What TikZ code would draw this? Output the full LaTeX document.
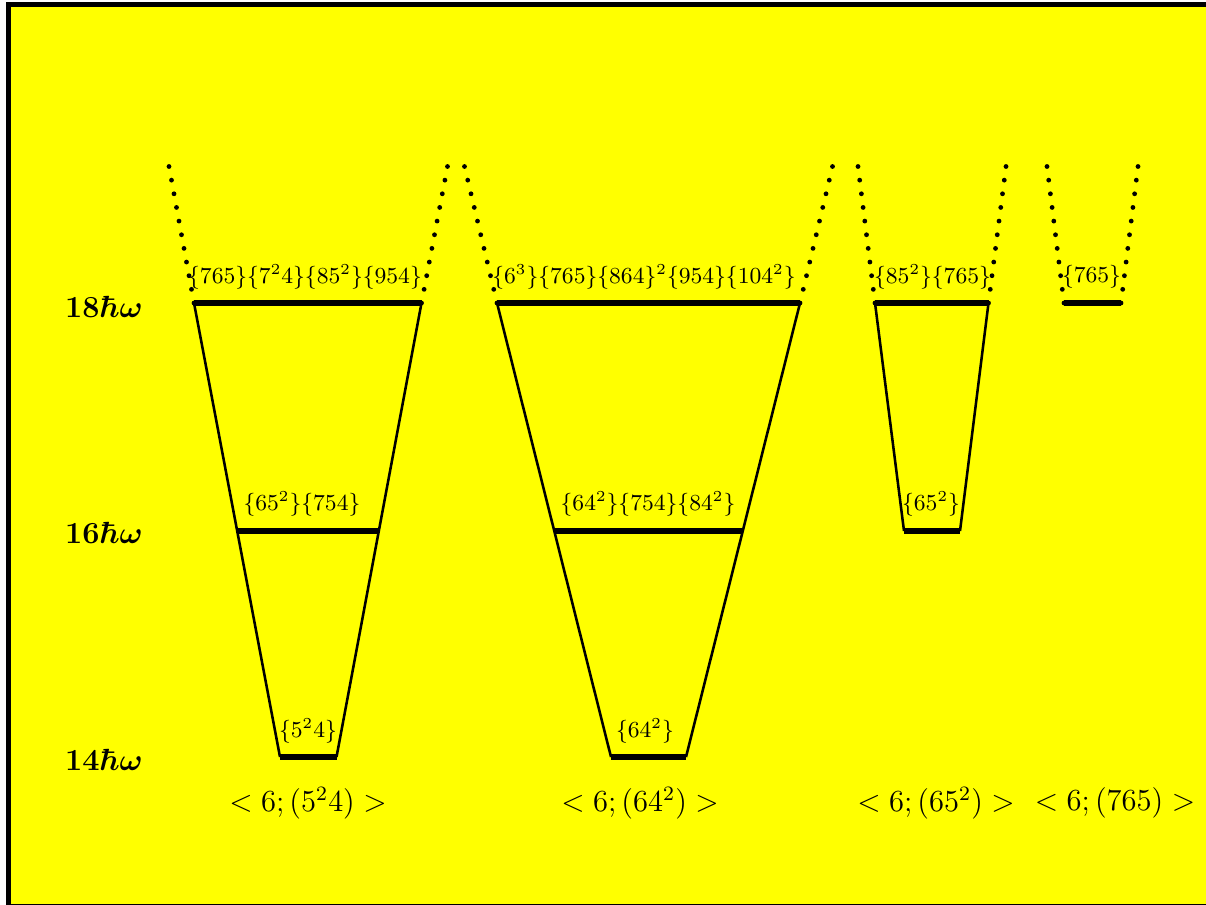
\documentclass[tikz,border=0pt]{standalone}
\usetikzlibrary{calc}
\definecolor{bgyellow}{RGB}{255,255,0}
\tikzset{
  side/.style={line width=1pt},
  levelline/.style={line width=2.1pt},
  toplab/.style={font=\fontsize{9}{11}\selectfont, inner sep=0pt},
  botlab/.style={font=\fontsize{12}{14}\selectfont, inner sep=0pt},
  energy/.style={font=\fontsize{12}{14}\selectfont\boldmath, inner sep=0pt},
}
\newcommand\mydotline[2]{\foreach \i in {0,...,10}{\fill ($(#1)!\i/10!(#2)$) circle[radius=2.4];}}
\begin{document}
\begin{tikzpicture}[x=0.392pt,y=-0.392pt]
\useasboundingbox (0,0) rectangle (1206,905);
% frame and background
\fill[white] (0,0) rectangle (1206,905);
\fill[black] (6,2.3) rectangle (1206,905);
\fill[bgyellow] (11,7.5) rectangle (1206,903.5);

% energy labels
\node[energy] (e18) at (104,307) {$18\hbar\omega$};
\node[energy] (e16) at (104,533) {$16\hbar\omega$};
\node[energy] (e14) at (104,760) {$14\hbar\omega$};

% ---------- group 1 ----------
\coordinate (a1) at (194,303);
\coordinate (b1) at (421.5,303);
\coordinate (c1) at (238,531);
\coordinate (d1) at (378.5,531);
\coordinate (f1) at (280,757);
\coordinate (g1) at (336.5,757);
\coordinate (u1) at (169,166.5);
\coordinate (v1) at (447.5,166.5);
\draw[side] (a1) -- (f1);
\draw[side] (b1) -- (g1);
\draw[levelline] (a1) -- (b1);
\draw[levelline] (c1) -- (d1);
\draw[levelline] (f1) -- (g1);
\mydotline{u1}{a1}
\mydotline{v1}{b1}
\node[toplab] (l1a) at (305,277) {$\{765\}\{7^24\}\{85^2\}\{954\}$};
\node[toplab] (l1b) at (302,504) {$\{65^2\}\{754\}$};
\node[toplab] (l1c) at (308,731) {$\{5^24\}$};
\node[botlab] (n1) at (308,803) {$<6;(5^24)>$};

% ---------- group 2 ----------
\coordinate (a2) at (497,303);
\coordinate (b2) at (800,303);
\coordinate (c2) at (554,531);
\coordinate (d2) at (742.5,531);
\coordinate (f2) at (611,757);
\coordinate (g2) at (686,757);
\coordinate (u2) at (464.5,166.5);
\coordinate (v2) at (832.5,166.5);
\draw[side] (a2) -- (f2);
\draw[side] (b2) -- (g2);
\draw[levelline] (a2) -- (b2);
\draw[levelline] (c2) -- (d2);
\draw[levelline] (f2) -- (g2);
\mydotline{u2}{a2}
\mydotline{v2}{b2}
\node[toplab] (l2a) at (644,277) {$\{6^3\}\{765\}\{864\}^2\{954\}\{104^2\}$};
\node[toplab] (l2b) at (648,504) {$\{64^2\}\{754\}\{84^2\}$};
\node[toplab] (l2c) at (645,731) {$\{64^2\}$};
\node[botlab] (n2) at (640,803) {$<6;(64^2)>$};

% ---------- group 3 ----------
\coordinate (a3) at (875,303);
\coordinate (b3) at (988.5,303);
\coordinate (f3) at (904,531);
\coordinate (g3) at (960,531);
\coordinate (u3) at (858,166.5);
\coordinate (v3) at (1006,166.5);
\draw[side] (a3) -- (f3);
\draw[side] (b3) -- (g3);
\draw[levelline] (a3) -- (b3);
\draw[levelline] (f3) -- (g3);
\mydotline{u3}{a3}
\mydotline{v3}{b3}
\node[toplab] (l3a) at (932.5,277) {$\{85^2\}\{765\}$};
\node[toplab] (l3b) at (931,504) {$\{65^2\}$};
\node[botlab] (n3) at (936,803) {$<6;(65^2)>$};

% ---------- group 4 ----------
\coordinate (a4) at (1064,303);
\coordinate (b4) at (1121,303);
\coordinate (u4) at (1047,166.5);
\coordinate (v4) at (1138,166.5);
\draw[levelline] (a4) -- (b4);
\mydotline{u4}{a4}
\mydotline{v4}{b4}
\node[toplab] (l4a) at (1091.5,277) {$\{765\}$};
\node[botlab] (n4) at (1115,803) {$<6;(765)>$};
\end{tikzpicture}
\end{document}
